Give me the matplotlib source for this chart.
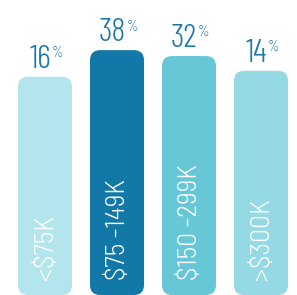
import matplotlib
matplotlib.use("Agg")
import matplotlib.pyplot as plt
from matplotlib.patches import FancyBboxPatch

# income brackets and share of respondents
labels = ["<$75K", "$75 -149K", "$150 -299K", ">$300K"]
shares = [16, 38, 32, 14]
# bar heights as drawn in the source (% of chart height, not proportional to shares)
bar_heights = [74, 83, 81, 76]
colors = ["#b3e5ec", "#1278a8", "#67c7d7", "#94d9e4"]

num_font = ["Barlow Condensed", "Roboto Condensed", "DejaVu Sans"]
lab_font = ["Barlow Semi Condensed", "Roboto Condensed", "DejaVu Sans"]

fig = plt.figure(figsize=(2.97, 2.95), dpi=100)
ax = fig.add_axes([0, 0, 1, 1])
ax.set_xlim(-0.625, 3.5)
ax.set_ylim(0, 100)
ax.axis("off")

# px per data unit, to keep the corners round
px_x = 297 / (3.5 + 0.625)
px_y = 295 / 100
width = 0.75
radius = 10 / px_x

for i, (h, c) in enumerate(zip(bar_heights, colors)):
    box = FancyBboxPatch((i - width / 2, 0), width, h,
                         boxstyle=f"round,pad=0,rounding_size={radius}",
                         mutation_aspect=px_x / px_y,
                         facecolor=c, edgecolor="none")
    ax.add_patch(box)

    num = ax.annotate(str(shares[i]), xy=(i, h), xytext=(-3.5, 6.5),
                      textcoords="offset points", ha="center", va="baseline",
                      fontsize=24, color="#1a78a8", family=num_font, fontweight=300)
    ax.annotate("%", xy=(1, 1), xycoords=num, xytext=(0.5, -1),
                textcoords="offset points", ha="left", va="top",
                fontsize=10.5, color="#1a78a8", family=num_font, fontweight=300)

    ax.text(i + 0.01, 5.1, labels[i], rotation=90, ha="center", va="bottom",
            fontsize=20, color="white", family=lab_font, fontweight=300)

fig.savefig("out.png", dpi=100)
